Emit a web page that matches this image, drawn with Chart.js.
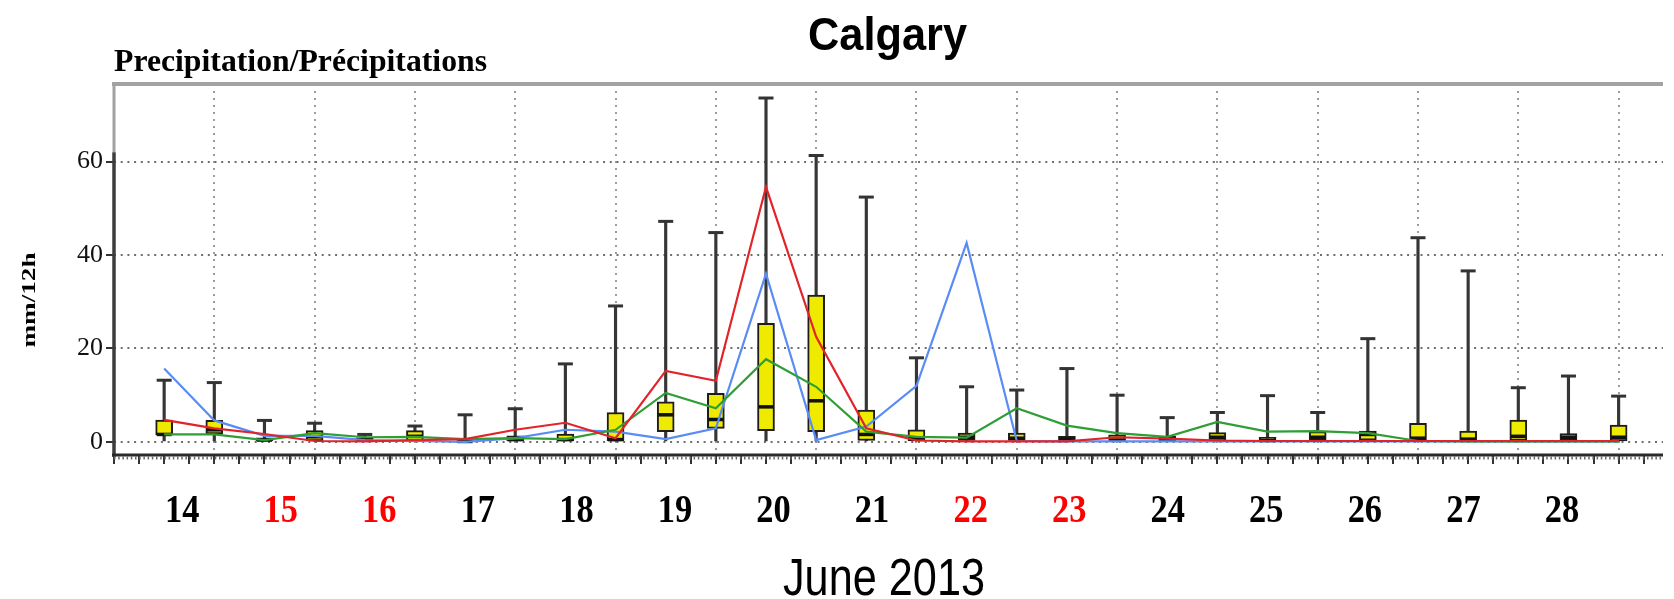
<!DOCTYPE html>
<html>
<head>
<meta charset="utf-8">
<script src="https://cdn.jsdelivr.net/npm/chart.js@4/dist/chart.umd.min.js"></script>
<style>
  html, body { margin: 0; padding: 0; background: #fff; overflow: hidden; }
  #wrap { width: 1674px; height: 599px; position: relative; }
</style>
</head>
<body>
<div id="wrap"><canvas id="c" width="1674" height="599"></canvas></div>
<script>
// Days of June 2013 shown on the time axis (two 12-hour slots per day)
const days = [14, 15, 16, 17, 18, 19, 20, 21, 22, 23, 24, 25, 26, 27, 28];
// Days printed in red
const redDays = [15, 16, 22, 23];

// Ensemble spread per 12-hour slot (mm/12h), slot 0 = 14 June first half
const ensMin    = [0, 0, 0, 0, 0, 0, 0, 0, 0, 0, 0, 0, 0, 0, 0, 0, 0, 0, 0, 0, 0, 0, 0, 0, 0, 0, 0, 0, 0, 0];
const ensQ1     = [1.5, 1.7, 0, 0, 0.1, 0.2, 0, 0, 0, 0, 2.2, 2.9, 2.4, 2.2, 0.3, 0.2, 0.3, 0.3, 0.2, 0, 0, 0, 0, 0.4, 0.4, 0, 0.4, 0.3, 0.4, 0];
const ensMedian = [1.6, 2.6, 0.4, 1.1, 0.4, 1.2, 0.1, 0.5, 0.5, 0.5, 5.8, 4.8, 7.5, 8.8, 1.6, 0.9, 1.0, 0.8, 0.5, 0.4, 0.4, 1.0, 0.3, 1.0, 1.6, 0.8, 0.6, 1.2, 1.0, 1.0];
const ensQ3     = [4.7, 4.6, 0.9, 2.4, 0.9, 2.4, 0.3, 1.3, 1.7, 6.3, 8.6, 10.4, 25.4, 31.4, 6.8, 2.6, 1.9, 1.9, 1.2, 1.5, 1.2, 2.0, 1.0, 2.2, 2.3, 4.0, 2.3, 4.7, 1.8, 3.6];
const ensMax    = [13.2, 12.7, 4.6, 4.0, 1.6, 3.4, 5.8, 7.1, 16.7, 29.1, 47.2, 44.8, 73.6, 61.3, 52.4, 18.0, 11.8, 11.1, 15.7, 10.0, 5.2, 6.3, 9.9, 6.3, 22.1, 43.7, 36.6, 11.6, 14.1, 9.8];

// Deterministic model runs (mm/12h)
const modelRed   = [4.7, 2.9, 1.7, 0.2, 0.1, 0.4, 0.6, 2.6, 4.1, 0.8, 15.2, 13.1, 54.6, 22.5, 2.9, 0.3, 0.1, 0.1, 0.1, 1.0, 0.7, 0.3, 0.2, 0.2, 0.2, 0.2, 0.2, 0.2, 0.2, 0.2];
const modelBlue  = [15.7, 4.6, 1.3, 1.3, 0.4, 0.2, 0.0, 0.8, 2.6, 2.2, 0.6, 2.9, 36.0, 0.4, 3.3, 12.0, 42.6, 0.2, 0.1, 0.1, 0.1, 0.1, 0.1, 0.1, 0.1, 0.1, 0.1, 0.1, 0.1, 0.1];
const modelGreen = [1.6, 1.6, 0.4, 1.9, 1.0, 1.1, 0.6, 0.8, 0.6, 2.6, 10.5, 7.2, 17.7, 11.8, 2.2, 1.1, 0.9, 7.2, 3.5, 1.9, 1.1, 4.3, 2.2, 2.3, 1.9, 0.2, 0.1, 0.1, 0.1, 0.1];

// Y axis labelled values
const yTickValues = [0, 20, 40, 60];

const pts = arr => arr.map((v, i) => ({ x: i, y: v }));
const ranges = (lo, hi) => lo.map((v, i) => ({ x: i, y: [v, hi[i]] }));

// Draws text squeezed or stretched to a target width along its baseline
function fitText(ctx, text, x, y, targetWidth, align) {
  const w = ctx.measureText(text).width;
  const s = targetWidth / w;
  ctx.save();
  ctx.translate(x, y);
  ctx.scale(s, 1);
  ctx.textAlign = align;
  ctx.fillText(text, 0, 0);
  ctx.restore();
}

const framePlugin = {
  id: 'frame',
  afterDatasetsDraw(chart) {
    const { ctx, chartArea: a } = chart;
    const y60 = chart.scales.y.getPixelForValue(62);
    ctx.save();
    // top frame
    ctx.strokeStyle = '#a2a2a2';
    ctx.lineWidth = 4;
    ctx.beginPath(); ctx.moveTo(a.left - 2, a.top); ctx.lineTo(a.right, a.top); ctx.stroke();
    // left axis: light above the data range, dark below
    ctx.lineWidth = 3;
    ctx.beginPath(); ctx.moveTo(a.left, a.top); ctx.lineTo(a.left, y60); ctx.stroke();
    ctx.strokeStyle = '#3d3d3d';
    ctx.lineWidth = 3.5;
    ctx.beginPath(); ctx.moveTo(a.left, y60); ctx.lineTo(a.left, a.bottom + 2); ctx.stroke();
    // bottom axis with fine hourly marks
    ctx.strokeStyle = '#2a2a2a';
    ctx.lineWidth = 3;
    ctx.beginPath(); ctx.moveTo(a.left - 2, a.bottom); ctx.lineTo(a.right, a.bottom); ctx.stroke();
    ctx.strokeStyle = '#666';
    ctx.lineWidth = 3;
    ctx.setLineDash([1.5, 2.7]);
    ctx.beginPath(); ctx.moveTo(a.left, a.bottom + 3); ctx.lineTo(a.right, a.bottom + 3); ctx.stroke();
    ctx.restore();
  }
};

const textPlugin = {
  id: 'texts',
  afterDraw(chart) {
    const { ctx } = chart;
    const xs = chart.scales.x;
    ctx.save();
    ctx.fillStyle = '#000';
    ctx.textBaseline = 'alphabetic';

    ctx.font = 'bold 47px "Liberation Sans", Arial, sans-serif';
    fitText(ctx, 'Calgary', 887.5, 50, 159, 'center');

    ctx.font = 'bold 31px "Liberation Serif", "Times New Roman", serif';
    fitText(ctx, 'Precipitation/Précipitations', 114, 71, 373, 'left');

    ctx.font = '51px "Liberation Sans", Arial, sans-serif';
    fitText(ctx, 'June 2013', 884, 595, 202, 'center');

    // vertical unit label
    ctx.save();
    ctx.translate(35, 300);
    ctx.rotate(-Math.PI / 2);
    ctx.font = 'bold 19px "Liberation Serif", "Times New Roman", serif';
    fitText(ctx, 'mm/12h', 0, 0, 95, 'center');
    ctx.restore();

    // day labels under the time axis
    ctx.font = 'bold 40px "Liberation Serif", "Times New Roman", serif';
    days.forEach((d, k) => {
      const px = xs.getPixelForValue(0.36 + 1.965 * k);
      ctx.fillStyle = redDays.includes(d) ? '#ff0000' : '#000';
      const t = String(d);
      const w = ctx.measureText(t).width;
      fitText(ctx, t, px, 522, w * 0.86, 'center');
    });
    ctx.restore();
  }
};

const halfSlotTicks = [];
for (let v = -1; v <= 29.5; v += 0.5) halfSlotTicks.push({ value: v });

new Chart(document.getElementById('c').getContext('2d'), {
  type: 'bar',
  data: {
    datasets: [
      { type: 'line', data: pts(modelRed), borderColor: '#e3232a', borderWidth: 2.2, pointRadius: 0, tension: 0, order: 1 },
      { type: 'line', data: pts(modelGreen), borderColor: '#2f9e35', borderWidth: 2.2, pointRadius: 0, tension: 0, order: 2 },
      { type: 'line', data: pts(modelBlue), borderColor: '#5a8cf6', borderWidth: 2.2, pointRadius: 0, tension: 0, order: 3 },
      { type: 'scatter', data: pts(ensMedian), pointStyle: 'line', pointRadius: 7.5, pointBorderWidth: 3.5,
        pointBorderColor: '#111', pointBackgroundColor: '#111', order: 4 },
      { type: 'bar', data: ranges(ensQ1, ensQ3), backgroundColor: '#eeea00', borderColor: '#1c1c1c',
        borderWidth: 2, borderSkipped: false, barThickness: 17, grouped: false, order: 5 },
      { type: 'scatter', data: pts(ensMax), pointStyle: 'line', pointRadius: 7.5, pointBorderWidth: 3,
        pointBorderColor: '#333', pointBackgroundColor: '#333', order: 6 },
      { type: 'bar', data: ranges(ensMin, ensMax), backgroundColor: '#363636', barThickness: 2.5, grouped: false, order: 7 }
    ]
  },
  options: {
    responsive: false,
    animation: false,
    events: [],
    layout: { padding: { top: 84, left: 0, right: 0, bottom: 0 } },
    plugins: { legend: { display: false }, tooltip: { enabled: false }, title: { display: false } },
    scales: {
      x: {
        type: 'linear',
        min: -1,
        max: 29.885,
        offset: false,
        afterFit(s) { s.height = 144; },
        afterBuildTicks(s) { s.ticks = halfSlotTicks.map(t => ({ value: t.value })); },
        ticks: { display: false },
        border: { display: false, dash: [2, 5] },
        grid: {
          offset: false,
          lineWidth: 2,
          color: c => (c.tick && c.tick.value > 0 && Number.isInteger(c.tick.value) && c.tick.value % 2 === 1) ? '#9c9c9c' : 'rgba(0,0,0,0)',
          drawTicks: true,
          tickLength: 9,
          tickWidth: 2,
          tickColor: '#333'
        }
      },
      y: {
        type: 'linear',
        min: -2.8,
        max: 76.6,
        afterFit(s) { s.width = 114; },
        afterBuildTicks(s) { s.ticks = yTickValues.map(v => ({ value: v })); },
        ticks: {
          color: '#111',
          padding: 3,
          font: { family: '"Liberation Serif", "Times New Roman", serif', size: 26 }
        },
        border: { display: false, dash: [2, 4.7] },
        grid: {
          lineWidth: 2,
          color: '#6e6e6e',
          tickLength: 8,
          tickWidth: 2,
          tickColor: '#333'
        }
      }
    }
  },
  plugins: [framePlugin, textPlugin]
});
</script>
</body>
</html>
